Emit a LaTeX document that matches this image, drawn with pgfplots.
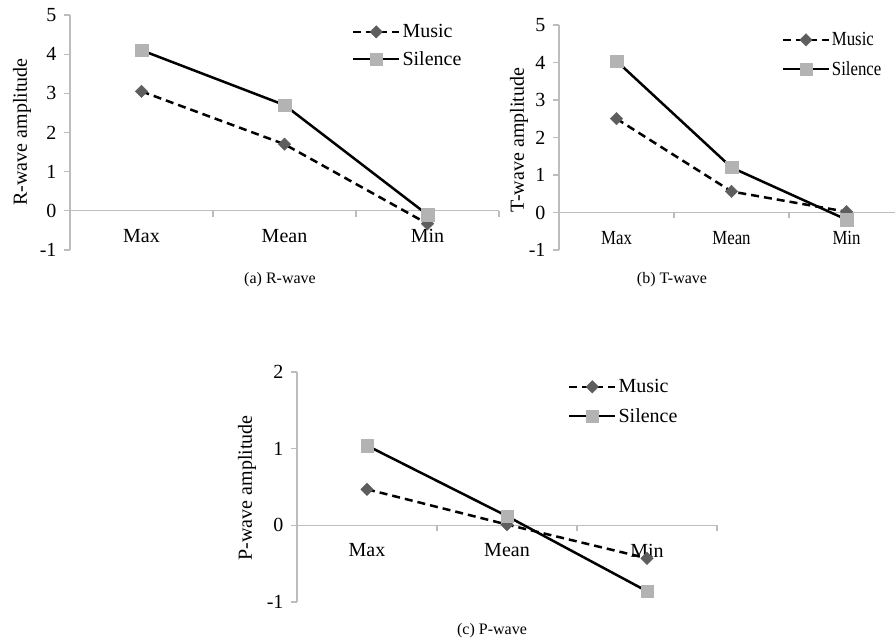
\documentclass[border=0pt]{standalone}
\usepackage{fontspec}
\setmainfont{Liberation Serif}
\usepackage{pgfplots}
\pgfplotsset{compat=1.18}
\definecolor{axgray}{HTML}{BDBDBD}
\definecolor{musicmk}{HTML}{5E5E5E}
\definecolor{silmk}{HTML}{B3B3B3}

\newcommand{\bigf}{\fontsize{20}{23}\selectfont}
\newcommand{\capf}{\fontsize{16}{18}\selectfont}

\pgfplotsset{
  panel/.style={
    scale only axis,
    axis y line=left, axis x line=middle,
    axis line style={-, draw=axgray, line width=1.3pt},
    xmin=-0.5, xmax=2.5,
    tick align=outside,
    hide obscured x ticks=false, hide obscured y ticks=false,
    xtick={0.5,1.5,2.5}, xticklabels={},
    major tick length=6pt,
    tick style={draw=axgray, line width=1.3pt},
    extra x ticks={0,1,2}, extra x tick labels={Max,Mean,Min},
    extra x tick style={major tick length=0pt, xticklabel style={yshift=-15pt}},
    ytick distance=1,
    /pgf/number format/assume math mode=true,
    tick label style={font=\bigf},
    yticklabel style={xshift=-4pt},
    label style={font=\bigf},
    clip=false,
    legend cell align=left,
    legend image code/.code={
      \draw[mark repeat=2, mark phase=2, ##1] plot coordinates {(0pt,0pt) (23pt,0pt) (46pt,0pt)};
    },
  },
  musicp/.style={black, line width=2.5pt, dash pattern=on 8pt off 5pt,
    mark=square*, mark size=4.4pt,
    mark options={solid, rotate=45, fill=musicmk, draw=musicmk, line width=0.4pt}},
  silp/.style={black, line width=2.5pt,
    mark=square*, mark size=6.2pt,
    mark options={solid, fill=silmk, draw=silmk, line width=0.4pt}},
}

\begin{document}
\begin{tikzpicture}[x=1pt,y=1pt]
\path[use as bounding box] (0,0) rectangle (895,644);

% (a) R-wave
\begin{axis}[panel, at={(70pt,394pt)}, anchor=south west,
    width=429pt, height=235pt, ymin=-1, ymax=5,
    ylabel={R-wave amplitude},
    ylabel style={at={(axis description cs:-0.112,0.502)}, anchor=center},
    legend style={draw=none, fill=none, at={(axis description cs:0.657,0.969)},
      anchor=north west, font=\bigf, row sep=8pt, inner sep=0pt}]
\addplot[musicp] coordinates {(0,3.05) (1,1.70) (2,-0.33)};
\addlegendentry{Music}
\addplot[silp] coordinates {(0,4.10) (1,2.70) (2,-0.10)};
\addlegendentry{Silence}
\end{axis}

% (b) T-wave
\begin{axis}[panel, at={(559pt,394pt)}, anchor=south west,
    width=345pt, height=225pt, ymin=-1, ymax=5,
    ylabel={T-wave amplitude},
    ylabel style={at={(axis description cs:-0.116,0.489)}, anchor=center},
    xticklabel style={xscale=0.84},
    legend style={draw=none, fill=none, at={(axis description cs:0.645,0.976)},
      anchor=north west, font=\bigf, row sep=10pt, inner sep=0pt,
      nodes={xscale=0.84}}]
\addplot[musicp] coordinates {(0,2.50) (1,0.56) (2,0.02)};
\addlegendentry{Music}
\addplot[silp] coordinates {(0,4.04) (1,1.20) (2,-0.19)};
\addlegendentry{Silence}
\end{axis}

% (c) P-wave
\begin{axis}[panel, at={(297pt,42pt)}, anchor=south west,
    width=420pt, height=230pt, ymin=-1, ymax=2,
    ylabel={P-wave amplitude},
    ylabel style={at={(axis description cs:-0.119,0.496)}, anchor=center},
    legend style={draw=none, fill=none, at={(axis description cs:0.645,0.977)},
      anchor=north west, font=\bigf, row sep=10pt, inner sep=0pt}]
\addplot[musicp] coordinates {(0,0.47) (1,0.01) (2,-0.43)};
\addlegendentry{Music}
\addplot[silp] coordinates {(0,1.04) (1,0.12) (2,-0.86)};
\addlegendentry{Silence}
\end{axis}

\node[font=\capf] at (280,364) {(a) R-wave};
\node[font=\capf] at (672,364) {(b) T-wave};
\node[font=\capf] at (492,13) {(c) P-wave};
\end{tikzpicture}
\end{document}
